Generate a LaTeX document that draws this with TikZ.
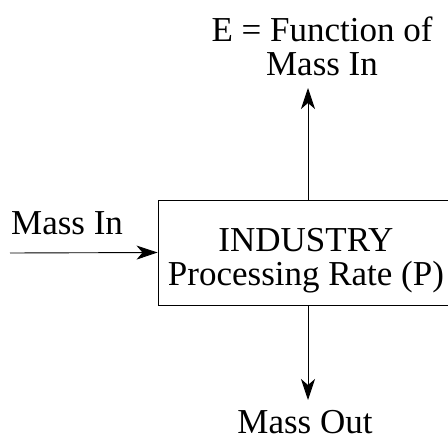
\documentclass[tikz,border=0pt]{standalone}
\usepackage{fontspec}
\setmainfont{Liberation Serif}
\usetikzlibrary{arrows.meta,positioning}

\tikzset{
  procbox/.style={draw, line width=0.9pt, minimum width=300pt, minimum height=105pt, inner sep=0pt},
  lbl/.style={font=\fontsize{35}{34}\selectfont, align=center, inner sep=0pt},
  flow/.style={line width=0.9pt, -{Stealth[length=21pt,width=14pt,inset=6pt]}}
}

\begin{document}
\begin{tikzpicture}[x=1pt, y=-1pt]
    \useasboundingbox (0,0) rectangle (448,441);

    % the plant
    \node[procbox] (industry) at (308,252.5) {};
    \node[lbl] (industrytxt) at (306,261) {INDUSTRY\\Processing Rate (P)};

    % energy on top
    \node[lbl] (efunc) at (322,46) {E = Function of\\Mass In};
    \coordinate (etip) at (308,88);
    \draw[flow] (industry.north) -- (etip);

    % mass going in
    \coordinate (instart) at (10,253);
    \node[lbl, anchor=base west] (massin) at (11,235) {Mass In};
    \draw[flow] (instart) -- (industry.west);

    % mass going out
    \coordinate (outtip) at (308,400);
    \node[lbl, anchor=base] (massout) at (305,433) {Mass Out};
    \draw[flow] (industry.south) -- (outtip);
\end{tikzpicture}
\end{document}
